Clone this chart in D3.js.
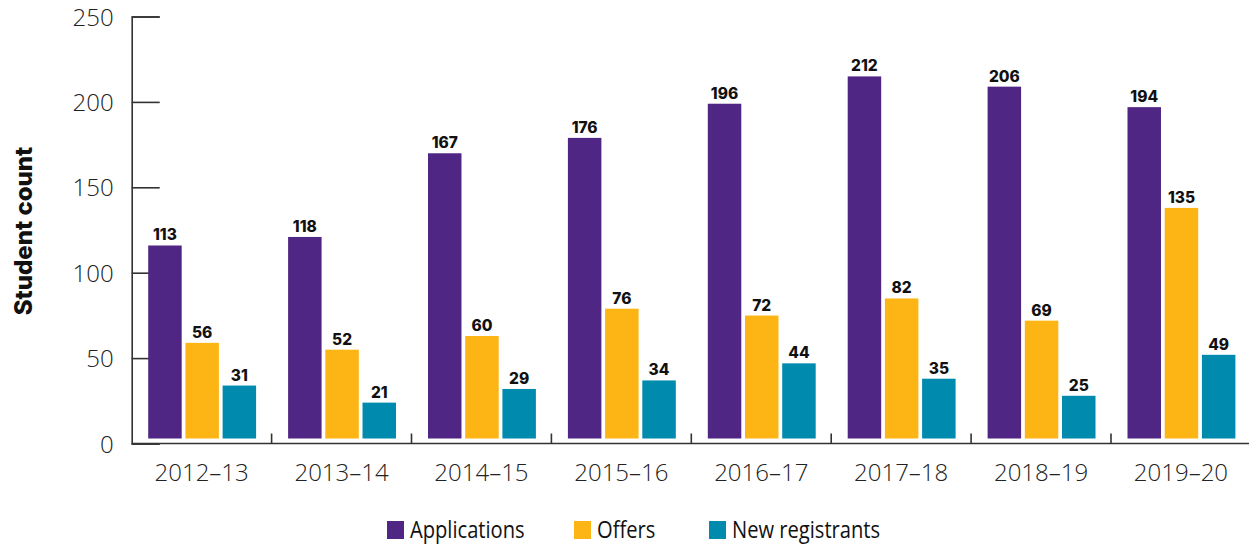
<!DOCTYPE html>
<html>
<head>
<meta charset="utf-8">
<script src="https://cdn.jsdelivr.net/npm/d3@7"></script>
<style>
  body { margin: 0; background: #fff; }
  svg { display: block; }
  .tick text { font-family: "Open Sans", sans-serif; fill: #222; }
</style>
</head>
<body>
<svg id="chart" width="1249" height="544"></svg>
<script>
let years = ['2012–13', '2013–14', '2014–15', '2015–16', '2016–17', '2017–18', '2018–19', '2019–20'];
let applications = [113, 118, 167, 176, 196, 212, 206, 194];
let offers = [56, 52, 60, 76, 72, 82, 69, 135];
let registrants = [31, 21, 29, 34, 44, 35, 25, 49];
let seriesNames = ['Applications', 'Offers', 'New registrants'];
let colors = ['#4f2683', '#fdb515', '#008aae'];
let yTicks = [0, 50, 100, 150, 200, 250];

let svg = d3.select('#chart');
let x0 = 131.7, yBase = 443.5, yTop = 16.5;
let step = 139.9;
let lift = 5;

let x = d3.scaleBand().domain(years).range([x0, x0 + step*years.length]).padding(0);
let x1 = d3.scaleBand().domain(seriesNames).range([16.5, x.bandwidth() - 15.5]).paddingInner(0.1);
let y = d3.scaleLinear().domain([0, 250]).range([yBase, yTop]);
let color = d3.scaleOrdinal().domain(seriesNames).range(colors);

let rows = years.map((yr, i) => ({year: yr, values: [applications[i], offers[i], registrants[i]]}));

// y axis, ticks pointing inward
let yAxis = d3.axisRight(y).tickValues(yTicks).tickSize(28).tickFormat(d3.format('d'));
let yg = svg.append('g').attr('transform', `translate(${x0},0)`).call(yAxis);
yg.select('.domain').attr('stroke', '#333').attr('stroke-width', 1.6);
yg.selectAll('.tick line').attr('stroke', '#333').attr('stroke-width', 1.6);
yg.selectAll('.tick text').attr('x', -18).attr('text-anchor', 'end')
  .style('font-size', '24px').style('font-weight', 300).attr('dy', '0.36em');

// x axis with boundary ticks upward
let xg = svg.append('g').attr('transform', `translate(0,${yBase})`);
xg.append('line').attr('x1', x0).attr('x2', 1249).attr('stroke', '#333').attr('stroke-width', 1.6);
xg.selectAll('.bound').data(years.slice(1)).join('line').classed('bound', true)
  .attr('x1', d => x(d)).attr('x2', d => x(d)).attr('y1', 0).attr('y2', -10)
  .attr('stroke', '#333').attr('stroke-width', 1.6);
xg.selectAll('.xlab').data(years).join('text').classed('xlab', true)
  .attr('x', d => x(d) + x.bandwidth()/2).attr('y', 37)
  .attr('text-anchor', 'middle')
  .style('font-family', '"Open Sans", sans-serif').style('font-size', '24px').style('font-weight', 300)
  .attr('fill', '#222')
  .text(d => d);

// bars
let groups = svg.append('g').selectAll('g').data(rows).join('g')
  .attr('transform', d => `translate(${x(d.year)},0)`);
groups.selectAll('rect').data(d => d.values.map((v, i) => ({key: seriesNames[i], value: v}))).join('rect')
  .attr('x', d => x1(d.key)).attr('width', x1.bandwidth())
  .attr('y', d => y(d.value) - lift).attr('height', d => yBase - y(d.value))
  .attr('fill', d => color(d.key));
groups.selectAll('text').data(d => d.values.map((v, i) => ({key: seriesNames[i], value: v}))).join('text')
  .attr('x', d => x1(d.key) + x1.bandwidth()/2).attr('y', d => y(d.value) - lift - 5)
  .attr('text-anchor', 'middle')
  .style('font-family', 'Inter, sans-serif').style('font-weight', 800).style('font-size', '15.5px')
  .attr('fill', '#111').text(d => d.value);

// y title
svg.append('text').attr('transform', 'translate(32,231) rotate(-90)')
  .attr('text-anchor', 'middle')
  .style('font-family', 'Inter, sans-serif').style('font-weight', 800).style('font-size', '24px')
  .attr('fill', '#111').text('Student count');

// legend, condensed look by horizontal squeeze
let legendX = [387, 574, 709];
let lg = svg.append('g').selectAll('g').data(seriesNames).join('g')
  .attr('transform', (d, i) => `translate(${legendX[i]},521)`);
lg.append('rect').attr('width', 17).attr('height', 18).attr('fill', d => color(d));
lg.append('text').attr('transform', 'translate(23,17) scale(0.875,1)')
  .style('font-family', '"Open Sans", sans-serif').style('font-size', '23px')
  .attr('fill', '#111').text(d => d);
</script>
</body>
</html>
